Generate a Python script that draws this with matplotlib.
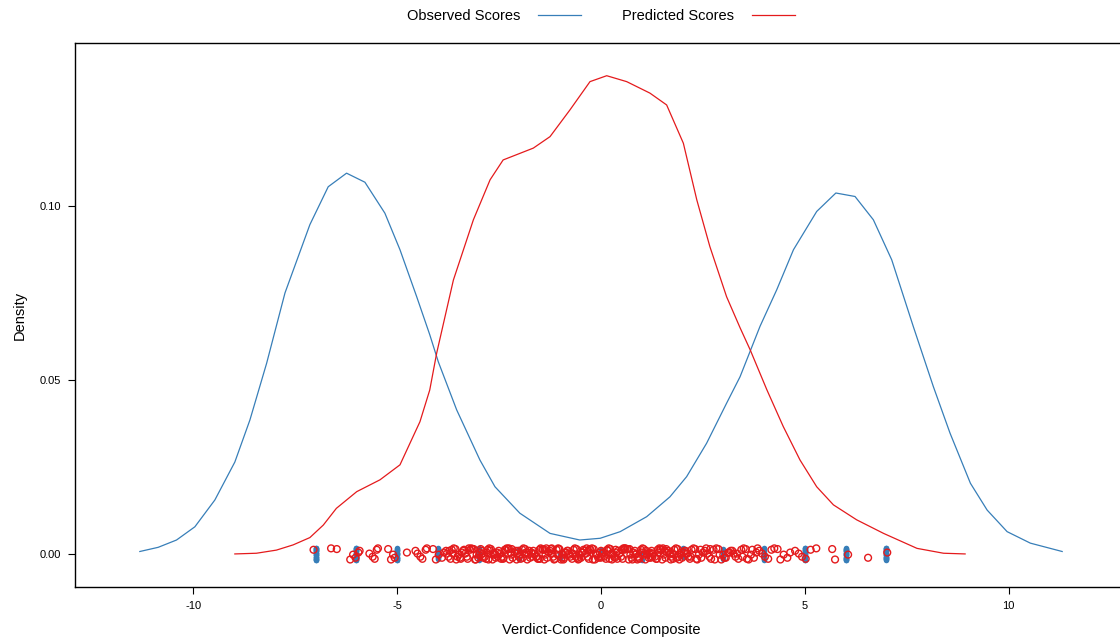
import numpy as np
import matplotlib
matplotlib.use("Agg")
import matplotlib.pyplot as plt

plt.rcParams['font.family'] = ['Liberation Sans', 'DejaVu Sans']
plt.rcParams['axes.unicode_minus'] = False

# density curve of the observed composite scores
obs_x = [-11.31, -10.86, -10.41, -9.96, -9.47, -8.98, -8.61, -8.20, -7.75, -7.14,
         -6.69, -6.24, -5.79, -5.30, -4.93, -4.52, -4.20, -3.99, -3.54, -2.97,
         -2.60, -1.99, -1.25, -0.52, -0.02, 0.47, 1.12, 1.69, 2.10, 2.59,
         3.08, 3.41, 3.90, 4.31, 4.72, 5.29, 5.76, 6.23, 6.68, 7.13,
         7.66, 8.15, 8.56, 9.06, 9.47, 9.96, 10.53, 11.31]
obs_y = [0.0007, 0.0019, 0.0040, 0.0078, 0.0155, 0.0264, 0.0385, 0.0548, 0.0750, 0.0946,
         0.1055, 0.1094, 0.1068, 0.0979, 0.0874, 0.0739, 0.0630, 0.0552, 0.0414, 0.0270,
         0.0193, 0.0117, 0.0059, 0.0040, 0.0045, 0.0064, 0.0107, 0.0164, 0.0222, 0.0318,
         0.0433, 0.0509, 0.0654, 0.0759, 0.0874, 0.0984, 0.1037, 0.1027, 0.0960, 0.0845,
         0.0653, 0.0481, 0.0347, 0.0203, 0.0126, 0.0064, 0.0031, 0.0007]

# density curve of the predicted scores
pred_x = [-8.98, -8.45, -7.96, -7.55, -7.14, -6.81, -6.49, -5.99, -5.42, -4.93,
          -4.61, -4.44, -4.20, -4.03, -3.62, -3.13, -2.72, -2.40, -1.66, -1.25,
          -0.76, -0.27, 0.14, 0.63, 1.20, 1.61, 2.02, 2.35, 2.67, 3.08,
          3.41, 3.66, 4.07, 4.47, 4.88, 5.29, 5.70, 6.27, 6.93, 7.75,
          8.40, 8.93]
pred_y = [0.0000, 0.0002, 0.0011, 0.0026, 0.0047, 0.0083, 0.0131, 0.0179, 0.0213, 0.0256,
          0.0337, 0.0380, 0.0471, 0.0577, 0.0787, 0.0960, 0.1075, 0.1132, 0.1166, 0.1199,
          0.1276, 0.1357, 0.1374, 0.1357, 0.1324, 0.1290, 0.1180, 0.1017, 0.0883, 0.0739,
          0.0650, 0.0586, 0.0471, 0.0366, 0.0270, 0.0193, 0.0141, 0.0098, 0.0059, 0.0016,
          0.0002, 0.0000]

# observed scores are whole numbers, given as value -> count
obs_values = [-7, -6, -5, -4, -3, -2, -1, 0, 1, 2, 3, 4, 5, 6, 7]
obs_counts = [20, 22, 16, 9, 5, 3, 2, 1, 2, 3, 6, 10, 16, 20, 18]

# individual predicted scores
pred_scores = [
    -7.05, -6.62, -6.48, -6.15, -6.08, -6.02, -5.95, -5.92, -5.68, -5.60,
    -5.55, -5.50, -5.47, -5.22, -5.15, -5.10, -5.06, -4.76, -4.55, -4.50,
    -4.43, -4.38, -4.30, -4.27, -4.12, -4.05, -3.98, -3.90, -3.85, -3.80,
    -3.78, -3.74, -3.69, -3.66, -3.61, -3.57, -3.55, -3.49, -3.46, -3.41,
    -3.38, -3.33, -3.29, -3.27, -3.21, -3.18, -3.12, -3.09, -3.05, -3.01,
    -2.97, -2.93, -2.90, -2.85, -2.82, -2.78, -2.74, -2.70, -2.66, -2.63,
    -2.58, -2.55, -2.51, -2.47, -2.43, -2.40, -2.36, -2.31, -2.28, -2.24,
    -2.20, -2.17, -2.12, -2.09, -2.05, -2.01, -1.97, -1.93, -1.90, -1.86,
    -1.81, -1.78, -1.74, -1.71, -1.66, -1.63, -1.59, -1.55, -1.51, -1.48,
    -1.44, -1.39, -1.36, -1.32, -1.28, -1.25, -1.20, -1.17, -1.13, -1.09,
    -1.05, -1.02, -0.98, -0.94, -0.90, -0.86, -0.83, -0.79, -0.75, -0.71,
    -0.67, -0.64, -0.60, -0.56, -0.52, -0.49, -0.45, -0.41, -0.37, -0.33,
    -0.30, -0.26, -0.22, -0.18, -0.15, -0.11, -0.07, -0.03, 0.00, 0.04,
    0.08, 0.12, 0.15, 0.19, 0.23, 0.27, 0.30, 0.34, 0.38, 0.42,
    0.45, 0.49, 0.53, 0.57, 0.60, 0.64, 0.68, 0.72, 0.75, 0.79,
    0.83, 0.87, 0.90, 0.94, 0.98, 1.02, 1.05, 1.09, 1.13, 1.17,
    1.20, 1.24, 1.28, 1.32, 1.35, 1.39, 1.43, 1.47, 1.50, 1.54,
    1.58, 1.62, 1.65, 1.69, 1.73, 1.77, 1.80, 1.84, 1.88, 1.92,
    1.95, 1.99, 2.03, 2.07, 2.10, 2.14, 2.18, 2.22, 2.27, 2.31,
    2.36, 2.40, 2.46, 2.50, 2.55, 2.61, 2.66, 2.70, 2.76, 2.83,
    2.88, 2.95, 3.00, 3.06, 3.12, 3.18, 3.25, 3.30, 3.37, 3.44,
    3.50, 3.55, 3.62, 3.68, 3.75, 3.81, 3.88, 3.95, 4.02, 4.10,
    4.18, 4.25, 4.33, 4.40, 4.48, 4.57, 4.64, 4.76, 4.85, 4.93,
    5.02, 5.14, 5.28, 5.67, 5.74, 6.06, 6.55, 7.02,
    -3.72, -3.63, -3.52, -3.44, -3.36, -3.24, -3.15, -3.07, -2.99, -2.88,
    -2.80, -2.72, -2.61, -2.53, -2.45, -2.34, -2.26, -2.19, -2.07, -1.99,
    -1.92, -1.84, -1.76, -1.68, -1.57, -1.50, -1.42, -1.34, -1.23, -1.15,
    -1.07, -0.96, -0.88, -0.81, -0.69, -0.62, -0.54, -0.43, -0.35, -0.28,
    -0.20, -0.09, -0.01, 0.06, 0.17, 0.25, 0.32, 0.40, 0.51, 0.58,
    0.66, 0.77, 0.85, 0.92, 1.00, 1.11, 1.18, 1.26, 1.37, 1.45,
    1.52, 1.60, 1.71, 1.79, 1.86, 1.97, 2.05, 2.12, 2.20, 2.34,
    2.44, 2.58, 2.68, 2.79, 2.91, 3.03, 3.15, 3.22, 3.34, 3.47,
    3.58, 3.71, 3.84,
    -2.95, -2.76, -2.59, -2.39, -2.22, -2.03, -1.88, -1.69, -1.53, -1.38,
    -1.21, -1.04, -0.92, -0.77, -0.58, -0.47, -0.31, -0.13, 0.02, 0.21,
    0.36, 0.55, 0.70, 0.89, 1.07, 1.22, 1.41, 1.56, 1.75, 1.90]

blue = "#377EB8"
red = "#E41A1C"

fig = plt.figure(figsize=(11.2, 6.42), dpi=100)
ax = fig.add_axes([75/1120, 55/642, 1052/1120, 544/642])

l1, = ax.plot(obs_x, obs_y, color=blue, lw=0.9, label="Observed Scores")
l2, = ax.plot(pred_x, pred_y, color=red, lw=0.9, label="Predicted Scores")

# small vertical spread so stacked points stay visible along the baseline
spread = np.array([0.0012, -0.0016, 0.0004, -0.0008, 0.0016, -0.0002,
                   0.0009, -0.0014, 0.0014, -0.0011, 0.0001])
ox = np.repeat(obs_values, obs_counts)
oy = spread[np.arange(len(ox)) % len(spread)]
ax.scatter(ox, oy, s=16, color=blue, linewidths=0, zorder=3)
px = np.array(pred_scores)
py = spread[(np.arange(len(px)) * 4) % len(spread)]
ax.scatter(px, py, s=24, facecolors="none", edgecolors=red, linewidths=1.0, zorder=4)

ax.set_xlim(-12.9, 12.9)
ax.set_ylim(-0.0095, 0.1468)
ax.set_xticks([-10, -5, 0, 5, 10])
ax.set_yticks([0.0, 0.05, 0.10])
ax.set_yticklabels(["0.00", "0.05", "0.10"])
ax.tick_params(length=5, width=0.8, pad=5, labelsize=8)
for s in ax.spines.values():
    s.set_linewidth(1.0)
ax.set_xlabel("Verdict-Confidence Composite", fontsize=10.5, labelpad=9)
ax.set_ylabel("Density", fontsize=10.5, labelpad=9)

fig.legend(handles=[l1, l2], loc="center", bbox_to_anchor=(601/1120, 1 - 16/642),
           ncol=2, frameon=False, markerfirst=False, fontsize=10.5,
           handlelength=3.0, handletextpad=1.2, columnspacing=2.8)

fig.savefig("out.png", dpi=100)
